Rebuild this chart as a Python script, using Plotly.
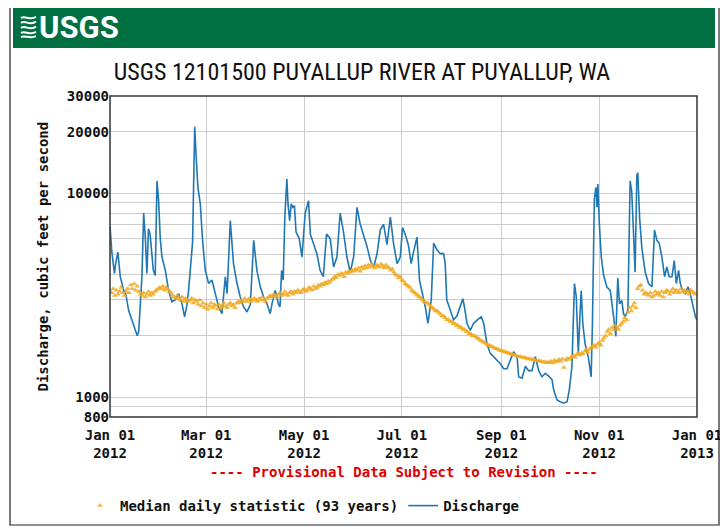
import pandas as pd
import plotly.graph_objects as go

# --- data (cfs) ---
YEAR_START = "2012-01-01"

# median daily statistic, one value per day, split by month
MEDIAN_JAN = [3300, 3250, 3400, 3150, 3350, 3200, 3300, 3450, 3250, 3150, 3300, 3400, 3250, 3550, 3400, 3600,
              3350, 3500, 3300, 3200, 3150, 3250, 3100, 3200, 3300, 3150, 3250, 3200, 3300, 3350, 3400]
MEDIAN_FEB = [3450, 3400, 3500, 3350, 3450, 3400, 3300, 3250, 3150, 3100, 3050, 3150, 3050, 3000, 3100, 2950,
              3050, 3000, 2950, 3000, 3050, 2900, 3000, 2950, 2850, 3000, 2800, 2900, 2750]
MEDIAN_MAR = [2850, 2700, 2800, 2900, 2750, 2850, 2800, 2700, 2850, 2750, 2800, 2900, 2800, 2750, 2850, 2900,
              2800, 2850, 2750, 2900, 2950, 2900, 3000, 2950, 3050, 2950, 3000, 3050, 2950, 3000, 3050]
MEDIAN_APR = [3000, 2950, 3050, 3000, 3100, 3000, 2950, 3050, 3100, 3150, 3100, 3200, 3150, 3100, 3200, 3250,
              3150, 3200, 3300, 3200, 3150, 3250, 3300, 3200, 3300, 3250, 3350, 3300, 3250, 3350]
MEDIAN_MAY = [3400, 3300, 3350, 3450, 3400, 3350, 3500, 3400, 3450, 3550, 3500, 3600, 3550, 3650, 3600, 3700,
              3650, 3750, 3800, 3900, 3850, 4000, 3950, 4050, 4000, 3900, 4100, 4050, 4150, 4100, 4200]
MEDIAN_JUN = [4150, 4250, 4200, 4300, 4150, 4350, 4250, 4400, 4300, 4450, 4350, 4500, 4400, 4300, 4450, 4400,
              4350, 4500, 4400, 4300, 4450, 4350, 4300, 4200, 4250, 4100, 4000, 3950, 3850, 3900]
MEDIAN_JUL = [3750, 3700, 3600, 3550, 3500, 3450, 3350, 3300, 3250, 3200, 3150, 3100, 3050, 3000, 2950, 2900,
              2900, 2850, 2800, 2750, 2700, 2650, 2650, 2600, 2550, 2500, 2500, 2450, 2400, 2400, 2350]
MEDIAN_AUG = [2350, 2300, 2300, 2250, 2250, 2200, 2200, 2150, 2150, 2100, 2100, 2050, 2050, 2000, 2000, 1980,
              1950, 1930, 1900, 1880, 1860, 1840, 1820, 1800, 1790, 1770, 1760, 1740, 1730, 1720, 1700]
MEDIAN_SEP = [1690, 1680, 1670, 1660, 1650, 1640, 1630, 1620, 1610, 1600, 1590, 1580, 1580, 1570, 1560, 1560,
              1550, 1540, 1540, 1530, 1530, 1520, 1510, 1510, 1500, 1500, 1490, 1490, 1480, 1480]
MEDIAN_OCT = [1480, 1500, 1470, 1520, 1490, 1510, 1530, 1500, 1540, 1400, 1520, 1550, 1530, 1560, 1580, 1600,
              1570, 1620, 1640, 1610, 1650, 1630, 1680, 1700, 1660, 1720, 1750, 1780, 1800, 1760, 1820]
MEDIAN_NOV = [1850, 1800, 1900, 1950, 2000, 2100, 2150, 2050, 2200, 2150, 2250, 2200, 2150, 2250, 2300, 2350,
              2450, 2400, 2600, 2750, 2650, 2800, 2900, 2750, 3400, 3500, 3550, 3350, 3200, 3250]
MEDIAN_DEC = [3200, 3150, 3250, 3100, 3150, 3300, 3200, 3250, 3150, 3300, 3100, 3250, 3350, 3300, 3200, 3300,
              3400, 3250, 3350, 3300, 3250, 3400, 3300, 3350, 3250, 3300, 3200, 3350, 3300, 3250, 3200]

# discharge: days since Jan 01 2012 (fractional = part of a day) and flow
DISCHARGE_DAY = [
    0, 1.2, 2.8, 3.5, 4.9, 6.4, 8.5, 9.9, 11.6, 13.7, 15.8, 17, 17.9, 19, 19.9, 21, 22, 23, 24, 25, 26, 27, 28.2,
    29.3, 30.3, 31.4, 32.4, 34.5, 36.5, 38.6, 40.7, 42.8, 44.9, 46.5, 47.9, 49, 51.5, 52.2, 52.8, 53.6, 54.8,
    56.3, 57.7, 59.4, 61.5, 63.6, 65.6, 67.7, 69.8, 71.9, 73, 75, 77, 79.2, 81.2, 83.3, 85.4, 87.5, 89.6, 91.6,
    93.7, 95.8, 97.9, 99.9, 101, 103, 105, 106, 107, 108, 109, 110.3, 111, 112, 113, 114, 115, 116, 118, 119.7,
    121.7, 123.8, 124.9, 127, 129, 131, 133, 135, 137.3, 139.4, 141.5, 143.5, 145.6, 147.7, 149.8, 151.9, 154,
    156, 158, 160.2, 162.3, 164.4, 166.5, 168.5, 170.6, 172.7, 174.8, 176.9, 179, 181, 182.4, 184, 186, 187.8,
    189, 191.4, 193, 194.5, 196.6, 198.2, 199.3, 200.3, 201.8, 203.8, 205.9, 208, 209, 210, 212, 214.2, 216.3,
    218.4, 220, 221, 222.6, 224.6, 226.7, 228.8, 231.5, 233, 235, 237.1, 239.2, 241.3, 243.4, 245.4, 247.5,
    249.6, 251.7, 253.8, 254.8, 256.9, 259, 261, 263.1, 265.2, 267.3, 269.3, 271.4, 273.5, 275.6, 276.6, 278.7,
    280.8, 282.9, 285, 286.4, 288, 289, 289.6, 290.7, 291.5, 292, 293, 293.8, 294.8, 296.2, 298.3, 300, 300.8,
    301.5, 302, 303, 303.6, 304.2, 305, 306.3, 307.8, 309.8, 311.9, 314, 315.4, 316.6, 317.7, 319.1, 320.2,
    321.2, 322.9, 324.3, 325.3, 326.4, 327.4, 328.5, 329.1, 330.2, 331.6, 333.7, 335.8, 337.9, 339.5, 341,
    342.4, 344.1, 345.8, 347.2, 348.7, 350.4, 351.8, 353.1, 354.5, 355.6, 357, 358.7, 360.4, 361.8, 363.3,
    365, 366,
]
DISCHARGE_CFS = [
    6900, 5100, 4050, 4500, 5150, 3900, 3350, 3200, 2670, 2390, 2130, 2000, 2100, 2770, 3900, 8000, 6100, 4050,
    6700, 6300, 5060, 4200, 3950, 11500, 9200, 5900, 4870, 4190, 3340, 2940, 3000, 3220, 2870, 2480, 2820, 3340,
    5780, 15800, 21200, 15800, 10700, 8870, 5900, 4190, 3610, 3750, 3220, 2770, 2570, 3900, 3220, 7350, 4520,
    3610, 3100, 2770, 2620, 2850, 5880, 4190, 3480, 3100, 2870, 2570, 2870, 3340, 2870, 2770, 4190, 3750, 7640,
    11750, 8870, 7350, 8870, 8540, 8700, 6450, 6000, 4870, 8000, 9200, 6300, 5600, 5050, 4190, 3900, 6320, 6000,
    4350, 4870, 8000, 6450, 4870, 4100, 4870, 8540, 7050, 6320, 5500, 4700, 4350, 5050, 6600, 7050, 5600, 7640,
    5600, 4520, 4870, 6800, 6320, 5600, 4520, 5050, 6100, 3740, 3340, 2770, 2300, 2700, 3000, 5700, 5300, 5060,
    5060, 4520, 3000, 2700, 2400, 2500, 2770, 3040, 2770, 2300, 2130, 2300, 2390, 2480, 2300, 1830, 1640, 1580,
    1520, 1460, 1380, 1380, 1520, 1670, 1580, 1260, 1240, 1420, 1350, 1350, 1580, 1350, 1260, 1310, 1270, 1220,
    1090, 970, 950, 935, 950, 1090, 1410, 2770, 3610, 3120, 1900, 1640, 2480, 3340, 2300, 1830, 1560, 1260, 2300,
    5250, 9400, 10700, 8540, 11100, 7350, 4870, 3960, 3470, 3340, 2480, 1990, 3840, 2870, 2980, 2570, 2480, 2670,
    11500, 10200, 6450, 4100, 12300, 12600, 7640, 5400, 4100, 3610, 3480, 6600, 5880, 5700, 4870, 3900, 4350,
    3900, 3900, 4680, 3610, 4190, 3610, 3340, 3220, 3480, 3220, 2870, 2480, 2390,
]

X_TICKS = ["2012-01-01", "2012-03-01", "2012-05-01", "2012-07-01", "2012-09-01", "2012-11-01", "2013-01-01"]
X_TICK_TEXT = ["Jan 01<br>2012", "Mar 01<br>2012", "May 01<br>2012", "Jul 01<br>2012",
               "Sep 01<br>2012", "Nov 01<br>2012", "Jan 01<br>2013"]
Y_TICKS = [800, 900, 1000, 2000, 3000, 4000, 5000, 6000, 7000, 8000, 9000, 10000, 20000, 30000]
Y_LABELED = [800, 1000, 10000, 20000, 30000]

# page geometry, in pixels of the 728x529 reference image.
# the browser body has an 8px margin, so the figure itself is 8px smaller each way
OFF = 8
W, H = 728 - OFF, 529 - OFF
PLOT_L, PLOT_R, PLOT_T, PLOT_B = 110, 697, 96, 417

MONO = "DejaVu Sans Mono, Liberation Mono, monospace"
NARROW = "Roboto Condensed, Roboto, sans-serif"


def px(x, y):
    """Reference pixel -> paper coordinates."""
    return (x - PLOT_L) / (PLOT_R - PLOT_L), (PLOT_B - y) / (PLOT_B - PLOT_T)


def wave_path(y, amp):
    """One stroke of the little USGS wave logo."""
    pts = [px(21, y), px(25, y - amp), px(30, y + amp), px(36, y - amp * 0.4)]
    (x0, y0), (x1, y1), (x2, y2), (x3, y3) = pts
    return f"M {x0},{y0} C {x1},{y1} {x2},{y2} {x3},{y3}"


def build_figure():
    median = (MEDIAN_JAN + MEDIAN_FEB + MEDIAN_MAR + MEDIAN_APR + MEDIAN_MAY + MEDIAN_JUN +
              MEDIAN_JUL + MEDIAN_AUG + MEDIAN_SEP + MEDIAN_OCT + MEDIAN_NOV + MEDIAN_DEC)
    median_dates = pd.date_range(YEAR_START, periods=len(median), freq="D")
    q_dates = pd.Timestamp(YEAR_START) + pd.to_timedelta(DISCHARGE_DAY, unit="D")

    fig = go.Figure()
    fig.add_trace(go.Scatter(x=q_dates, y=DISCHARGE_CFS, name="Discharge", mode="lines",
                             line=dict(color="#1f78b4", width=1.6), legendrank=2))
    fig.add_trace(go.Scatter(x=median_dates, y=median, name="Median daily statistic (93 years)",
                             mode="markers", legendrank=1,
                             marker=dict(symbol="triangle-up", size=5, color="#f2a81e", opacity=0.85,
                                         line=dict(width=0))))

    shapes = []
    # outer frame and green banner
    fx0, fy0 = px(10, 525)
    fx1, fy1 = px(719, 3)
    shapes.append(dict(type="rect", xref="paper", yref="paper", x0=fx0, y0=fy0, x1=fx1, y1=fy1,
                       line=dict(color="#222222", width=1.2), layer="below"))
    bx0, by0 = px(13, 48)
    bx1, by1 = px(715, 7)
    shapes.append(dict(type="rect", xref="paper", yref="paper", x0=bx0, y0=by0, x1=bx1, y1=by1,
                       line=dict(width=0), fillcolor="#006f41", layer="below"))
    for y, amp in [(18, 3), (23, 3.5), (28, 3.5), (33, 3), (37, 2)]:
        shapes.append(dict(type="path", xref="paper", yref="paper", path=wave_path(y, amp),
                           line=dict(color="white", width=2)))
    # plot border
    shapes.append(dict(type="rect", xref="paper", yref="paper", x0=0, y0=0, x1=1, y1=1,
                       line=dict(color="#333333", width=1.5)))

    lx, _ = px(42, 0)
    _, ry = px(0, 472)
    gx, gy = px(37, 28)
    annotations = [
        dict(text="<b>USGS</b>", x=gx, y=gy, xref="paper", yref="paper", xanchor="left", yanchor="middle",
             showarrow=False, font=dict(family="Roboto, sans-serif", size=31, color="white")),
        dict(text="Discharge, cubic feet per second", x=lx, y=0.5, xref="paper", yref="paper",
             xanchor="center", yanchor="middle", textangle=-90, showarrow=False,
             font=dict(family=MONO, size=14, color="#111111", weight="bold")),
        dict(text="---- Provisional Data Subject to Revision ----", x=0.5, y=ry, xref="paper",
             yref="paper", xanchor="center", yanchor="middle", showarrow=False,
             font=dict(family=MONO, size=14, color="#dd0000", weight="bold")),
    ]

    leg_x, leg_y = px(80, 506)
    fig.update_layout(
        width=W, height=H, autosize=False,
        margin=dict(l=PLOT_L - OFF, r=W - (PLOT_R - OFF), t=PLOT_T - OFF, b=H - (PLOT_B - OFF), pad=0,
                    autoexpand=False),
        paper_bgcolor="white", plot_bgcolor="white",
        title=dict(text="USGS 12101500 PUYALLUP RIVER AT PUYALLUP, WA", x=(362 - OFF) / W, xref="container",
                   y=1 - (72 - OFF) / H, yref="container", xanchor="center", yanchor="middle",
                   font=dict(family=NARROW, size=24, color="#111111")),
        xaxis=dict(type="date", range=[X_TICKS[0], X_TICKS[-1]], tickvals=X_TICKS, ticktext=X_TICK_TEXT,
                   showgrid=True, gridcolor="#cccccc", gridwidth=1, zeroline=False,
                   ticks="outside", ticklen=5, tickcolor="rgba(0,0,0,0)", automargin=False,
                   tickfont=dict(family=MONO, size=14, color="#111111", weight="bold")),
        yaxis=dict(type="log", range=[2.90309, 4.47712], tickvals=Y_TICKS,
                   ticktext=[str(v) if v in Y_LABELED else "" for v in Y_TICKS],
                   showgrid=True, gridcolor="#cccccc", gridwidth=1, zeroline=False, ticks="",
                   automargin=False,
                   tickfont=dict(family=MONO, size=14, color="#111111", weight="bold")),
        showlegend=True,
        legend=dict(orientation="h", x=leg_x, y=leg_y, xanchor="left", yanchor="middle",
                    bgcolor="rgba(0,0,0,0)", traceorder="normal",
                    font=dict(family=MONO, size=14, color="#111111", weight="bold")),
        shapes=shapes, annotations=annotations,
    )
    return fig


def main():
    fig = build_figure()
    fig.write_html("out.html")


if __name__ == "__main__":
    main()
